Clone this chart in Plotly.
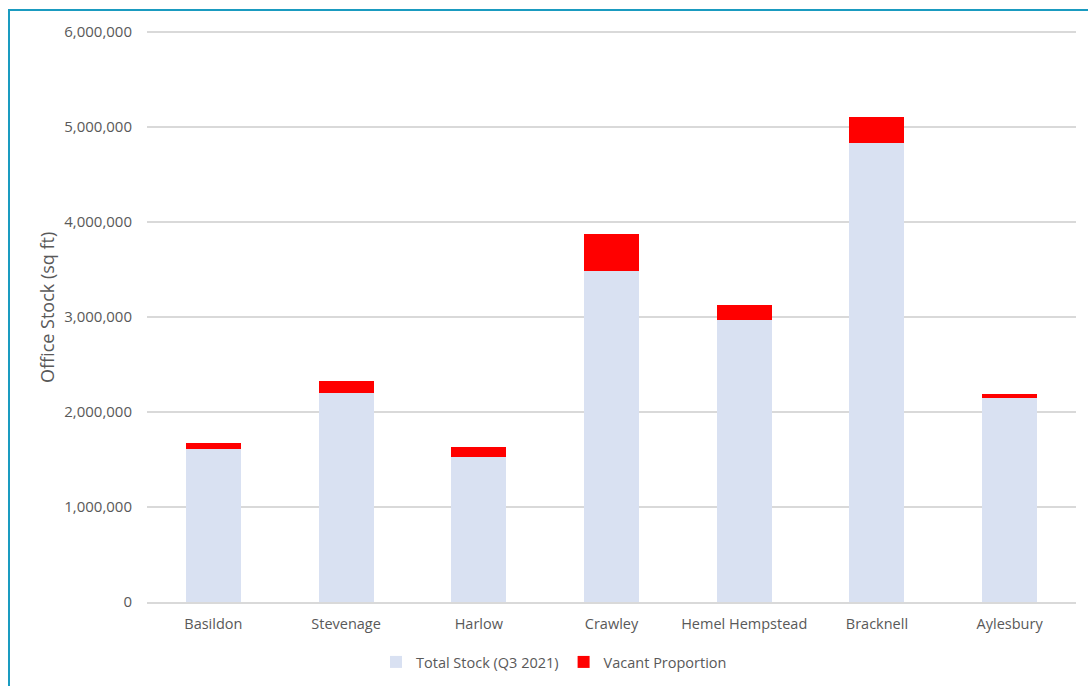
import plotly.graph_objects as go

# Office stock by town, Q3 2021 (sq ft)
towns = ["Basildon", "Stevenage", "Harlow", "Crawley", "Hemel Hempstead", "Bracknell", "Aylesbury"]
total_stock = [1607000, 2203000, 1529000, 3487000, 2968000, 4828000, 2144000]
vacant = [63000, 123000, 99000, 384000, 158000, 274000, 45000]
y_ticks = [0, 1000000, 2000000, 3000000, 4000000, 5000000, 6000000]

W, H = 1088, 686
ML, MR, MT, MB = 147, 12, 31, 84
PW, PH = W - ML - MR, H - MT - MB

TEXT = "#595959"
FONT = "Open Sans"

fig = go.Figure()
fig.add_trace(go.Bar(
    x=towns, y=total_stock, name="Total Stock (Q3 2021)",
    marker=dict(color="#D9E1F2", line=dict(width=0)),
))
fig.add_trace(go.Bar(
    x=towns, y=vacant, name="Vacant Proportion",
    marker=dict(color="#FF0000", line=dict(width=0)),
))


def px_x(px):
    return (px - ML) / PW


def px_y(py):
    return (H - MB - py) / PH


fig.update_layout(
    width=W, height=H,
    margin=dict(l=ML, r=MR, t=MT, b=MB, autoexpand=False),
    barmode="stack",
    bargap=0.585,
    paper_bgcolor="white",
    plot_bgcolor="white",
    font=dict(family=FONT, color=TEXT, size=14.5),
    xaxis=dict(
        showgrid=False,
        showline=True, linecolor="#D9D9D9", linewidth=1.5,
        ticks="", tickfont=dict(size=14.5, color=TEXT),
        ticklabelstandoff=8,
    ),
    yaxis=dict(
        range=[0, 6012000],
        tickvals=y_ticks,
        ticktext=[f"{v:,}" for v in y_ticks],
        showgrid=True, gridcolor="#D9D9D9", gridwidth=1.5,
        zeroline=False, showline=False,
        ticks="", tickfont=dict(size=15, color=TEXT),
        ticklabelstandoff=14,
    ),
    legend=dict(
        orientation="h", x=554 / W, xanchor="center", xref="container",
        y=1 - 662 / H, yanchor="middle", yref="container",
        font=dict(size=14.5, color=TEXT),
        itemwidth=30, traceorder="normal",
    ),
    showlegend=True,
    annotations=[dict(
        text="Office Stock (sq ft)", textangle=-90,
        xref="paper", yref="paper",
        x=px_x(47), y=px_y(308), xanchor="center", yanchor="middle",
        showarrow=False, font=dict(size=18, color=TEXT, family=FONT),
    )],
    shapes=[dict(
        type="rect", xref="paper", yref="paper",
        x0=px_x(9), x1=px_x(1110), y0=px_y(720), y1=px_y(10),
        line=dict(color="#1A9BC0", width=2), fillcolor="rgba(0,0,0,0)",
        layer="above",
    )],
)

fig.write_html("out.html")
